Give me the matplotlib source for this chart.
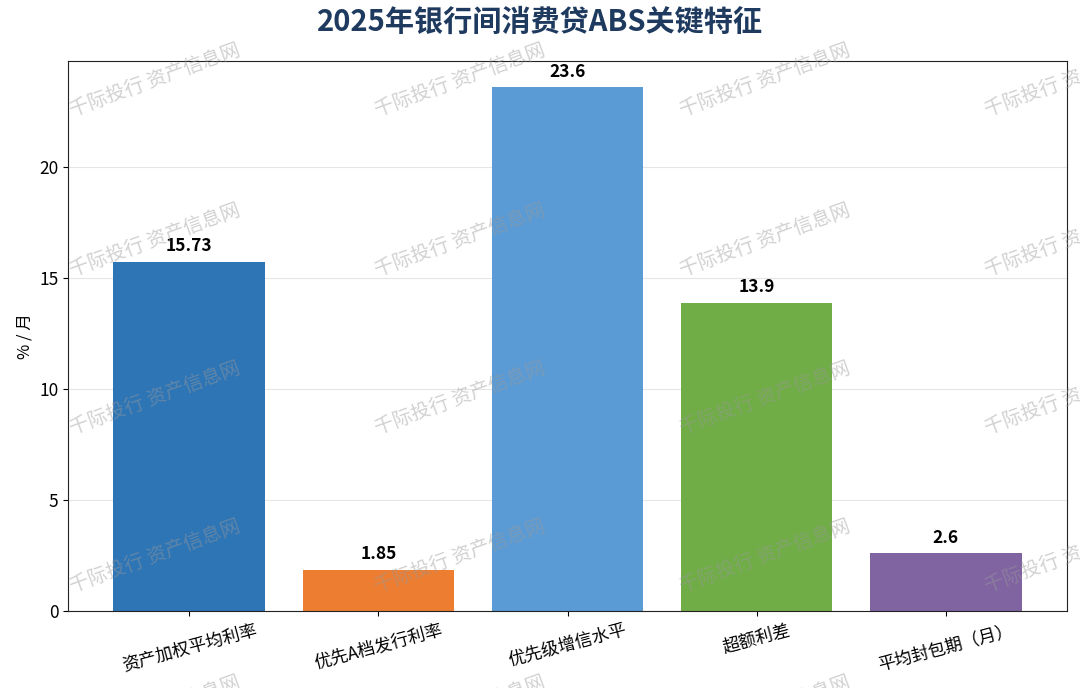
import matplotlib
matplotlib.use('Agg')
import matplotlib.pyplot as plt
import numpy as np

plt.rcParams['font.family'] = ['Noto Sans CJK SC', 'DejaVu Sans']

categories = ['资产加权平均利率', '优先A档发行利率', '优先级增信水平', '超额利差', '平均封包期（月）']
values = [15.73, 1.85, 23.6, 13.9, 2.6]
labels = ['15.73', '1.85', '23.6', '13.9', '2.6']
colors = ['#2e75b6', '#ed7d31', '#5b9bd5', '#70ad47', '#8064a2']

fig, ax = plt.subplots(figsize=(10.8, 6.88), dpi=100)
fig.subplots_adjust(left=0.063, right=0.988, top=0.911, bottom=0.112)

x = np.arange(len(categories))
bars = ax.bar(x, values, width=0.8, color=colors, zorder=2)
for b, lab in zip(bars, labels):
    ax.text(b.get_x() + b.get_width() / 2, b.get_height() + 0.3, lab,
            ha='center', va='bottom', fontsize=12.5, fontweight='bold', zorder=3)

ax.set_ylim(0, max(values) * 1.05)
ax.set_xticks(x)
ax.set_xticklabels(categories, rotation=15, ha='center', fontsize=12.5)
ax.tick_params(axis='y', labelsize=12.5)
ax.set_ylabel('% / 月', fontsize=12)
ax.yaxis.grid(True, color='#e6e6e6', linewidth=0.8, zorder=0)
ax.set_axisbelow(True)
for s in ax.spines.values():
    s.set_color('#222222')

fig.suptitle('2025年银行间消费贷ABS关键特征', fontsize=21, fontweight='bold',
             color='#1f3a5f', y=0.99)

# watermark
for cx in [155, 460, 765, 1070]:
    for cy in [80, 240, 398, 556, 712]:
        fig.text(cx / 1080, 1 - cy / 688, '千际投行 资产信息网', fontsize=14,
                 color='#999999', alpha=0.45, rotation=20,
                 ha='center', va='center', zorder=10)

fig.savefig('out.png', dpi=100)
